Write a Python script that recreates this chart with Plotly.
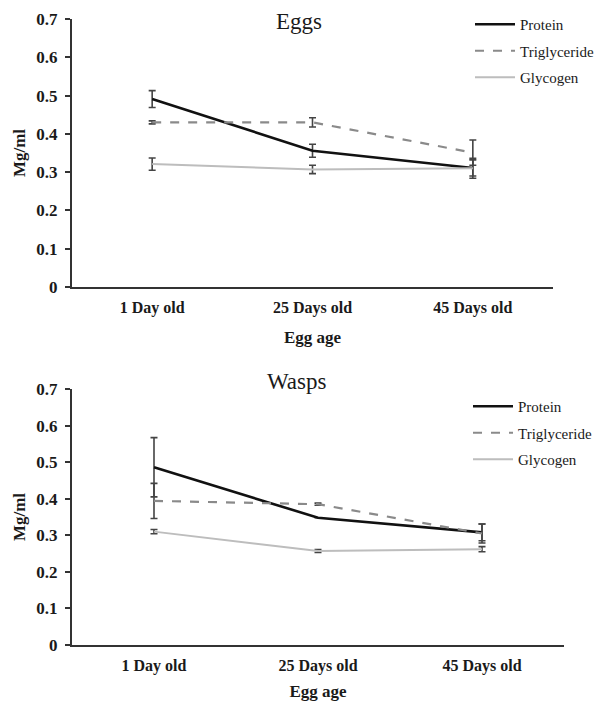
import plotly.graph_objects as go

categories = ["1 Day old", "25 Days old", "45 Days old"]

# Eggs panel
eggs_protein = [0.491, 0.356, 0.311]
eggs_protein_err = [0.022, 0.017, 0.021]
eggs_trig = [0.430, 0.430, 0.351]
eggs_trig_err = [0.004, 0.012, 0.033]
eggs_glyc = [0.321, 0.307, 0.310]
eggs_glyc_err = [0.016, 0.011, 0.026]

# Wasps panel
wasps_protein = [0.486, 0.348, 0.308]
wasps_protein_err = [0.081, 0.0, 0.023]
wasps_trig = [0.394, 0.385, 0.305]
wasps_trig_err = [0.048, 0.003, 0.026]
wasps_glyc = [0.310, 0.257, 0.262]
wasps_glyc_err = [0.006, 0.004, 0.007]

y_ticks = [0, 0.1, 0.2, 0.3, 0.4, 0.5, 0.6, 0.7]
y_tick_text = ["0", "0.1", "0.2", "0.3", "0.4", "0.5", "0.6", "0.7"]

SERIF = "Liberation Serif"
ERR_COLOR = "#444444"
TXT = "#1a1a1a"

styles = {
    "Protein": dict(color="#111111", width=2.6, dash="solid"),
    "Triglyceride": dict(color="#8a8a8a", width=2.2, dash="dash"),
    "Glycogen": dict(color="#bdbdbd", width=2.0, dash="solid"),
}

fig = go.Figure()

def add_panel(xa, ya, legend, data):
    for name, vals, errs in data:
        st = styles[name]
        fig.add_trace(go.Scatter(
            x=categories, y=vals, mode="lines", name=name,
            xaxis=xa, yaxis=ya, legend=legend, legendgroup=legend + name,
            line=dict(color=st["color"], width=st["width"], dash=st["dash"]),
            error_y=dict(type="data", array=errs, visible=True,
                         color=ERR_COLOR, thickness=1.6, width=3.5),
            hoverinfo="skip",
        ))

add_panel("x", "y", "legend", [
    ("Protein", eggs_protein, eggs_protein_err),
    ("Triglyceride", eggs_trig, eggs_trig_err),
    ("Glycogen", eggs_glyc, eggs_glyc_err),
])
add_panel("x2", "y2", "legend2", [
    ("Protein", wasps_protein, wasps_protein_err),
    ("Triglyceride", wasps_trig, wasps_trig_err),
    ("Glycogen", wasps_glyc, wasps_glyc_err),
])

W, H = 599, 701

def xaxis_cfg(d0, d1, anchor):
    return dict(
        domain=[d0 / W, d1 / W], anchor=anchor, type="category",
        range=[-0.5, 2.5], showline=True, linecolor="#333333", linewidth=2,
        ticks="", showgrid=False, zeroline=False, automargin=False,
        tickvals=categories, ticktext=["<b>%s</b>" % c for c in categories],
        tickfont=dict(family=SERIF, size=16, color=TXT),
        ticklabelstandoff=5,
        title=dict(text="<b>Egg age</b>", font=dict(family=SERIF, size=17, color=TXT),
                   standoff=15),
    )

def yaxis_cfg(top, bottom, anchor):
    return dict(
        domain=[1 - bottom / H, 1 - top / H], anchor=anchor,
        range=[0, 0.7], tickvals=y_ticks, ticktext=["<b>%s</b>" % t for t in y_tick_text],
        showline=True, linecolor="#333333", linewidth=2, automargin=False,
        ticks="outside", ticklen=5, tickwidth=1.5, tickcolor="#333333",
        showgrid=False, zeroline=False,
        tickfont=dict(family=SERIF, size=17, color=TXT),
        ticklabelstandoff=4,
        title=dict(text="<b>Mg/ml</b>", font=dict(family=SERIF, size=17, color=TXT),
                   standoff=6),
    )

legend_common = dict(
    font=dict(family=SERIF, size=15, color=TXT),
    bgcolor="rgba(0,0,0,0)", tracegroupgap=4, itemwidth=40,
    xanchor="left", yanchor="top",
)

fig.update_layout(
    width=W, height=H,
    margin=dict(l=0, r=0, t=0, b=0),
    paper_bgcolor="white", plot_bgcolor="white",
    xaxis=xaxis_cfg(72, 553, "y"),
    yaxis=yaxis_cfg(19, 287, "x"),
    xaxis2=xaxis_cfg(72, 564, "y2"),
    yaxis2=yaxis_cfg(389, 645, "x2"),
    legend=dict(x=470 / W, y=1 - 8 / H, **legend_common),
    legend2=dict(x=468 / W, y=1 - 390 / H, **legend_common),
    annotations=[
        dict(text="Eggs", x=299 / W, y=1 - 22 / H, xref="paper", yref="paper",
             xanchor="center", yanchor="middle",
             showarrow=False, font=dict(family=SERIF, size=23, color=TXT)),
        dict(text="Wasps", x=297 / W, y=1 - 382 / H, xref="paper", yref="paper",
             xanchor="center", yanchor="middle",
             showarrow=False, font=dict(family=SERIF, size=23, color=TXT)),
    ],
    showlegend=True,
)

fig.write_html("out.html")
